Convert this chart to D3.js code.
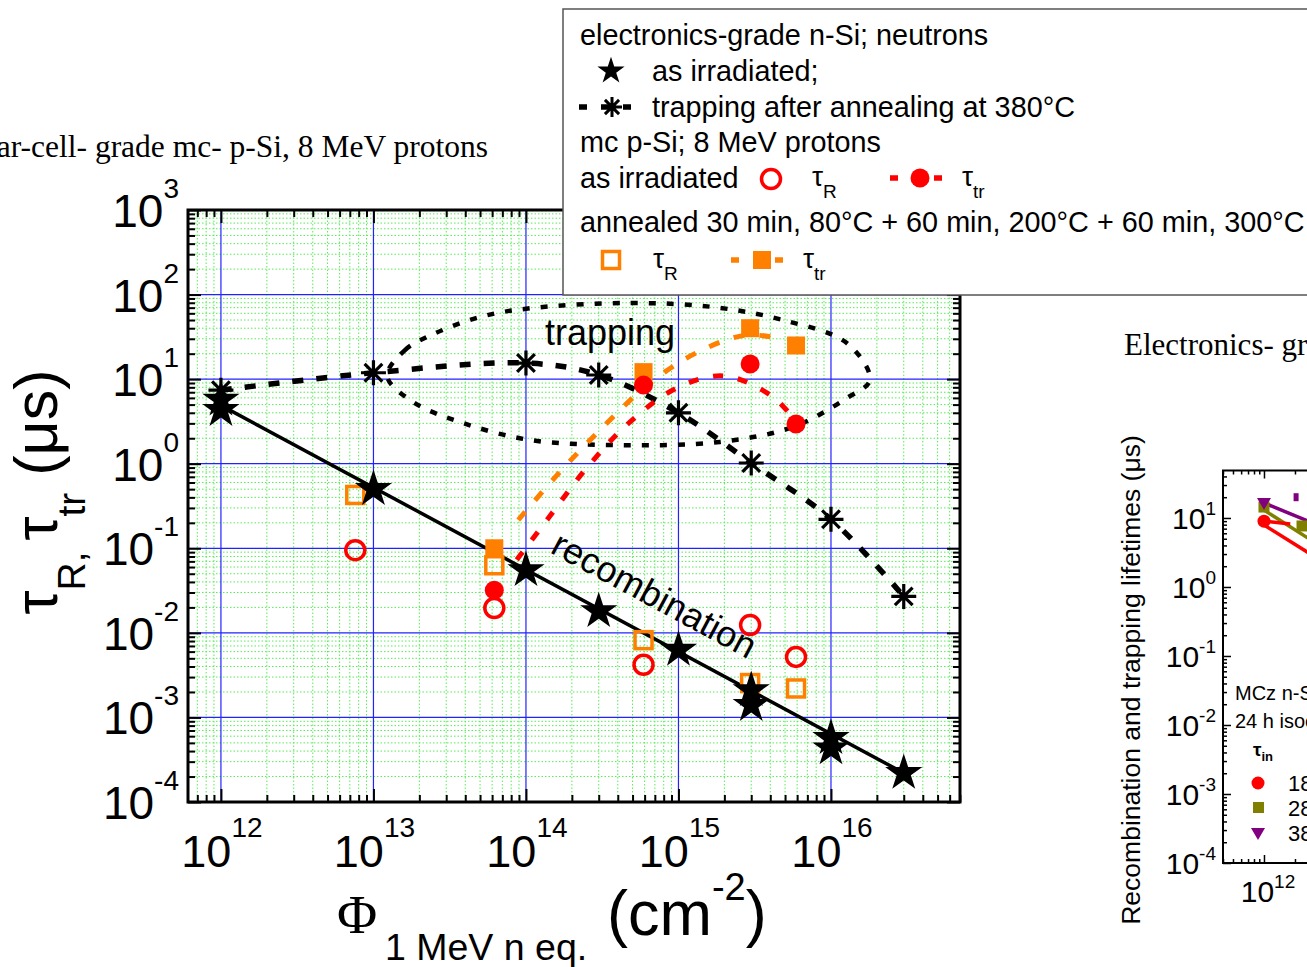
<!DOCTYPE html>
<html><head><meta charset="utf-8">
<script src="https://cdn.jsdelivr.net/npm/d3@7"></script>
<style>
body{margin:0;background:#fff;}
svg{display:block;font-family:"Liberation Sans",Arial,sans-serif;}
</style>
</head><body>
<svg id="c" width="1307" height="967"></svg>
<script>
// ---------------- DATA ----------------
// electronics-grade n-Si, neutrons, as irradiated (recombination)
const starX = [1e12, 1e12, 1e13, 1e14, 3e14, 1e15, 3e15, 3e15, 1e16, 1e16, 3e16];
const starY = [5.7, 4.3, 0.50, 0.055, 0.018, 0.0063, 0.0021, 0.0014, 5.7e-4, 4.3e-4, 2.2e-4];
const recombFitX = [1e12, 3e16];
const recombFitY = [4.9, 2.2e-4];
// trapping after annealing at 380C
const trapX = [1e12, 1e13, 1e14, 3e14, 1e15, 3e15, 1e16, 3e16];
const trapY = [7.4, 11.9, 15.5, 11.2, 4.0, 1.02, 0.22, 0.027];
// mc p-Si, 8 MeV protons
const protX = [7.6e12, 6.2e13, 5.9e14, 2.95e15, 5.9e15];
const irrTauR = [0.095, 0.0197, 0.0042, 0.0124, 0.0052];
const annTauR = [0.427, 0.063, 0.0082, 0.00255, 0.0022];
const trX = [6.2e13, 5.9e14, 2.95e15, 5.9e15];
const irrTauTr = [0.032, 8.5, 15.1, 2.95];
const annTauTr = [0.10, 12.1, 40, 25];
// hand-drawn guide curves
const irrGuideX = [8.7e13, 1.42e14, 2.5e14, 4.8e14, 9.8e14, 2.0e15, 4.17e15, 6.0e15];
const irrGuideY = [0.073, 0.234, 0.89, 3.1, 7.9, 10.9, 6.15, 3.0];
const annGuideX = [8.9e13, 1.67e14, 3.3e14, 6.5e14, 1.34e15, 2.73e15, 4.5e15];
const annGuideY = [0.216, 0.80, 2.87, 9.0, 20.9, 33, 30.6];
// "trapping" loop
const loopX = [1.23e13, 1.61e13, 2.24e13, 4.99e13, 1.11e14, 4.81e14, 1.68e15, 4.84e15, 1.27e16, 1.80e16, 1.27e16, 5.63e15, 1.87e15, 4.13e14, 1.06e14, 3.86e13, 1.82e13];
const loopY = [10.9, 22.1, 31.5, 54.3, 69.4, 79.5, 71.3, 50.0, 26.7, 9.8, 5.98, 2.72, 1.81, 1.66, 1.91, 3.03, 5.37];
// tick labels
const xTickExps = [12, 13, 14, 15, 16];
const yTickExps = [3, 2, 1, 0, -1, -2, -3, -4];
// inset (right, cut off)
const insetYExps = [1, 0, -1, -2, -3, -4];
const insetXExps = [12];
const insetRedX = [1e12], insetRedY = [9.0];
const insetOliveX = [1e12, 2.34e12], insetOliveY = [14.4, 7.66];
const insetPurpleX = [1e12], insetPurpleY = [16.5];
const insetPurpleBarX = [2.05e12], insetPurpleBarY = [20];
const insetLinePurpleX = [1e12, 1e13], insetLinePurpleY = [16.5, 4.05];
const insetLineOliveX = [1e12, 1e13], insetLineOliveY = [13, 1.46];
const insetLineRed1X = [1e12, 1e13], insetLineRed1Y = [7.9, 0.93];
const insetLineRed2X = [1e12, 1.8e12], insetLineRed2Y = [9.0, 8.2];

// ---------------- DRAW ----------------
const svg = d3.select('#c');
const RED = '#ff0000', ORANGE = '#ff8000', OLIVE = '#808000', PURPLE = '#800080';
const zip = (a, b) => a.map((v, i) => [v, b[i]]);

const x = d3.scaleLog().domain([Math.pow(10, 11.784), Math.pow(10, 16.846)]).range([188, 960]);
const y = d3.scaleLog().domain([1e-4, 1e3]).range([802, 210]);
const X0 = 188, X1 = 960, Y0 = 802, Y1 = 210;

function minors(scale) {
  const [a, b] = scale.domain();
  const out = [];
  for (let e = Math.floor(Math.log10(a)); e <= Math.ceil(Math.log10(b)); e++)
    for (let k = 2; k <= 9; k++) { const v = k * Math.pow(10, e); if (v > a * 1.0001 && v < b * 0.9999) out.push(v); }
  return out;
}
const xMaj = xTickExps.map(e => Math.pow(10, e));
const yMaj = yTickExps.map(e => Math.pow(10, e));

// minor grid (green dotted)
const grid = svg.append('g');
grid.selectAll('.gxm').data(minors(x)).enter().append('line')
  .attr('x1', d => x(d)).attr('x2', d => x(d)).attr('y1', Y1).attr('y2', Y0)
  .attr('stroke', '#55ee55').attr('stroke-width', 1).attr('stroke-dasharray', '1.5,2');
grid.selectAll('.gym').data(minors(y)).enter().append('line')
  .attr('y1', d => y(d)).attr('y2', d => y(d)).attr('x1', X0).attr('x2', X1)
  .attr('stroke', '#55ee55').attr('stroke-width', 1).attr('stroke-dasharray', '1.5,2');
// major grid (blue)
grid.selectAll('.gx').data(xMaj).enter().append('line')
  .attr('x1', d => x(d)).attr('x2', d => x(d)).attr('y1', Y1).attr('y2', Y0)
  .attr('stroke', '#2222ff').attr('stroke-width', 1.2);
grid.selectAll('.gy').data(yMaj).enter().append('line')
  .attr('y1', d => y(d)).attr('y2', d => y(d)).attr('x1', X0).attr('x2', X1)
  .attr('stroke', '#2222ff').attr('stroke-width', 1.2);

// axes ticks (inward, all sides)
function ticks(axisFn, scale, vals, size, tr) {
  const g = svg.append('g').attr('transform', tr)
    .call(axisFn(scale).tickValues(vals).tickSize(-size).tickFormat(''));
  g.select('.domain').remove();
  g.selectAll('line').attr('stroke', '#000').attr('stroke-width', 2);
}
ticks(d3.axisBottom, x, xMaj, 13, `translate(0,${Y0})`);
ticks(d3.axisBottom, x, minors(x), 7, `translate(0,${Y0})`);
ticks(d3.axisTop, x, xMaj, 13, `translate(0,${Y1})`);
ticks(d3.axisTop, x, minors(x), 7, `translate(0,${Y1})`);
ticks(d3.axisLeft, y, yMaj, 13, `translate(${X0},0)`);
ticks(d3.axisLeft, y, minors(y), 7, `translate(${X0},0)`);
ticks(d3.axisRight, y, yMaj, 13, `translate(${X1},0)`);
ticks(d3.axisRight, y, minors(y), 7, `translate(${X1},0)`);
svg.append('rect').attr('x', X0).attr('y', Y1).attr('width', X1 - X0).attr('height', Y0 - Y1)
  .attr('fill', 'none').attr('stroke', '#000').attr('stroke-width', 3);

// tick labels
function pow10(g, px, py, exp, anchor, size, supSize, supDy) {
  const t = g.append('text').attr('x', px).attr('y', py).attr('text-anchor', anchor)
    .attr('font-size', size).attr('fill', '#000');
  t.append('tspan').text('10');
  t.append('tspan').attr('font-size', supSize).attr('dy', -supDy).text(exp);
}
xTickExps.forEach(e => pow10(svg, x(Math.pow(10, e)) + 1, 867, e, 'middle', 45, 28, 30));
yTickExps.forEach(e => pow10(svg, 179, y(Math.pow(10, e)) + 17, e, 'end', 46, 28, 29));

// ---------- series ----------
const lineLog = d3.line().x(d => x(d[0])).y(d => y(d[1]));
const plot = svg.append('g');

// trapping loop (dotted)
plot.append('path').datum(zip(loopX, loopY))
  .attr('d', lineLog.curve(d3.curveCatmullRomClosed.alpha(0.5)))
  .attr('fill', 'none').attr('stroke', '#000').attr('stroke-width', 4.5).attr('stroke-dasharray', '7,11');

// recombination fit line
plot.append('path').datum(zip(recombFitX, recombFitY))
  .attr('d', d3.line().x(d => x(d[0])).y(d => y(d[1])))
  .attr('fill', 'none').attr('stroke', '#000').attr('stroke-width', 3.5);

// trapping dashed line
plot.append('path').datum(zip(trapX, trapY))
  .attr('d', d3.line().x(d => x(d[0])).y(d => y(d[1])).curve(d3.curveCatmullRom.alpha(0.5)))
  .attr('fill', 'none').attr('stroke', '#000').attr('stroke-width', 5.5).attr('stroke-dasharray', '11,13');

// guides
plot.append('path').datum(zip(annGuideX, annGuideY))
  .attr('d', d3.line().x(d => x(d[0])).y(d => y(d[1])).curve(d3.curveCatmullRom.alpha(0.5)))
  .attr('fill', 'none').attr('stroke', ORANGE).attr('stroke-width', 5).attr('stroke-dasharray', '11,15');
plot.append('path').datum(zip(irrGuideX, irrGuideY))
  .attr('d', d3.line().x(d => x(d[0])).y(d => y(d[1])).curve(d3.curveCatmullRom.alpha(0.5)))
  .attr('fill', 'none').attr('stroke', RED).attr('stroke-width', 5).attr('stroke-dasharray', '10,15');

// markers
function asteriskPath(r) {
  let p = '';
  [0, 45, 90, 135].forEach(a => {
    const t = a * Math.PI / 180, dx = r * Math.cos(t), dy = r * Math.sin(t);
    p += `M${(-dx).toFixed(2)},${(-dy).toFixed(2)}L${dx.toFixed(2)},${dy.toFixed(2)}`;
  });
  return p;
}
plot.selectAll('.ast').data(zip(trapX, trapY)).enter().append('path')
  .attr('transform', d => `translate(${x(d[0])},${y(d[1])})`)
  .attr('d', asteriskPath(12.5)).attr('stroke', '#000').attr('stroke-width', 3.2).attr('fill', 'none');

// orange open squares (annealed tau_R)
plot.selectAll('.osq').data(zip(protX, annTauR)).enter().append('rect')
  .attr('x', d => x(d[0]) - 8.5).attr('y', d => y(d[1]) - 8.5).attr('width', 17).attr('height', 17)
  .attr('fill', 'none').attr('stroke', ORANGE).attr('stroke-width', 3.5);
// orange filled squares (annealed tau_tr)
plot.selectAll('.fsq').data(zip(trX, annTauTr)).enter().append('rect')
  .attr('x', d => x(d[0]) - 9).attr('y', d => y(d[1]) - 9).attr('width', 18).attr('height', 18)
  .attr('fill', ORANGE);
// red open circles
plot.selectAll('.oc').data(zip(protX, irrTauR)).enter().append('circle')
  .attr('cx', d => x(d[0])).attr('cy', d => y(d[1])).attr('r', 9.5)
  .attr('fill', 'none').attr('stroke', RED).attr('stroke-width', 3.5);
// red filled circles
plot.selectAll('.fc').data(zip(trX, irrTauTr)).enter().append('circle')
  .attr('cx', d => x(d[0])).attr('cy', d => y(d[1])).attr('r', 9.5).attr('fill', RED);
// stars
plot.selectAll('.st').data(zip(starX, starY)).enter().append('path')
  .attr('transform', d => `translate(${x(d[0])},${y(d[1])})`)
  .attr('d', d3.symbol(d3.symbolStar).size(430)()).attr('fill', '#000');

// in-plot labels
svg.append('text').attr('x', 545).attr('y', 345).attr('font-size', 36).text('trapping');
const slope = Math.atan2(y(recombFitY[1]) - y(recombFitY[0]), x(recombFitX[1]) - x(recombFitX[0])) * 180 / Math.PI;
svg.append('text').attr('transform', `translate(549,552) rotate(${slope})`).attr('font-size', 36).text('recombination');

// axis titles
const yt = svg.append('text').attr('transform', 'translate(57,492) rotate(-90)').attr('text-anchor', 'middle').attr('font-size', 61);
yt.append('tspan').text('τ');
yt.append('tspan').attr('font-size', 39).attr('dy', 28).text('R');
yt.append('tspan').attr('font-size', 39).text(', ');
yt.append('tspan').attr('dy', -28).text('τ');
yt.append('tspan').attr('font-size', 39).attr('dy', 28).text('tr');
yt.append('tspan').attr('dy', -28).text(' (μs)');

svg.append('text').attr('x', 337).attr('y', 933).attr('font-family', '"Liberation Serif","Times New Roman",serif').attr('font-size', 55).text('Φ');
svg.append('text').attr('x', 385).attr('y', 960).attr('font-size', 37.5).text('1 MeV n eq.');
const xt = svg.append('text').attr('x', 607).attr('y', 935).attr('font-size', 63);
xt.append('tspan').text('(cm');
xt.append('tspan').attr('font-size', 38).attr('dy', -35).text('-2');
xt.append('tspan').attr('dy', 35).text(')');

// titles
svg.append('text').attr('x', 488).attr('y', 157).attr('text-anchor', 'end')
  .attr('font-family', '"Liberation Serif","Times New Roman",serif').attr('font-size', 31.5)
  .text('Solar-cell- grade mc- p-Si, 8 MeV protons');
svg.append('text').attr('x', 1124).attr('y', 355)
  .attr('font-family', '"Liberation Serif","Times New Roman",serif').attr('font-size', 31)
  .text('Electronics- grade n-Si, neutrons');

// ---------------- INSET (cut off at right) ----------------
const xi = d3.scaleLog().domain([Math.pow(10, 11.602), Math.pow(10, 14.36)]).range([1223, 1507]);
const yi = d3.scaleLog().domain([1e-4, Math.pow(10, 1.688)]).range([863, 470.5]);
const IX0 = 1223, IY0 = 863, IY1 = 470.5;
const ins = svg.append('g');
function iticks(axisFn, scale, vals, size, tr) {
  const g = ins.append('g').attr('transform', tr)
    .call(axisFn(scale).tickValues(vals).tickSize(-size).tickFormat(''));
  g.select('.domain').remove();
  g.selectAll('line').attr('stroke', '#000').attr('stroke-width', 1.5);
}
const iyMaj = insetYExps.map(e => Math.pow(10, e));
const ixMaj = [1e12, 1e13];
iticks(d3.axisLeft, yi, iyMaj, 8, `translate(${IX0},0)`);
iticks(d3.axisLeft, yi, minors(yi), 4, `translate(${IX0},0)`);
iticks(d3.axisBottom, xi, ixMaj, 8, `translate(0,${IY0})`);
iticks(d3.axisBottom, xi, minors(xi), 4, `translate(0,${IY0})`);
iticks(d3.axisTop, xi, ixMaj, 8, `translate(0,${IY1})`);
iticks(d3.axisTop, xi, minors(xi), 4, `translate(0,${IY1})`);
ins.append('path').attr('d', `M1320,${IY1}H${IX0}V${IY0}H1320`).attr('fill', 'none').attr('stroke', '#000').attr('stroke-width', 2);
insetYExps.forEach(e => pow10(ins, 1216, yi(Math.pow(10, e)) + 11, e, 'end', 30, 19, 14));
insetXExps.forEach(e => pow10(ins, xi(Math.pow(10, e)) + 4, 902, e, 'middle', 30, 19, 14));
ins.append('text').attr('transform', 'translate(1140,680) rotate(-90)').attr('text-anchor', 'middle')
  .attr('font-size', 26.5).text('Recombination and trapping lifetimes (μs)');

const il = d3.line().x(d => xi(d[0])).y(d => yi(d[1]));
[[insetLinePurpleX, insetLinePurpleY, PURPLE], [insetLineOliveX, insetLineOliveY, OLIVE],
 [insetLineRed1X, insetLineRed1Y, RED], [insetLineRed2X, insetLineRed2Y, RED]].forEach(([a, b, c]) =>
  ins.append('path').datum(zip(a, b)).attr('d', il).attr('fill', 'none').attr('stroke', c).attr('stroke-width', 3.5));
ins.selectAll('.ir').data(zip(insetRedX, insetRedY)).enter().append('circle')
  .attr('cx', d => xi(d[0])).attr('cy', d => yi(d[1])).attr('r', 6.5).attr('fill', RED);
ins.selectAll('.io').data(zip(insetOliveX, insetOliveY)).enter().append('rect')
  .attr('x', d => xi(d[0]) - 5.5).attr('y', d => yi(d[1]) - 5.5).attr('width', 11).attr('height', 11).attr('fill', OLIVE);
const triDown = 'M-7,-5L7,-5L0,7Z';
ins.selectAll('.ip').data(zip(insetPurpleX, insetPurpleY)).enter().append('path')
  .attr('transform', d => `translate(${xi(d[0])},${yi(d[1])})`).attr('d', triDown).attr('fill', PURPLE);
ins.selectAll('.ipb').data(zip(insetPurpleBarX, insetPurpleBarY)).enter().append('rect')
  .attr('x', d => xi(d[0]) - 2.5).attr('y', d => yi(d[1]) - 4).attr('width', 5).attr('height', 8).attr('fill', PURPLE);

ins.append('text').attr('x', 1235).attr('y', 700).attr('font-size', 20).text('MCz n-Si, neutrons');
ins.append('text').attr('x', 1235).attr('y', 728).attr('font-size', 20).text('24 h isochronal annealing');
const tin = ins.append('text').attr('x', 1253).attr('y', 756).attr('font-size', 19).attr('font-weight', 'bold');
tin.append('tspan').text('τ');
tin.append('tspan').attr('font-size', 13).attr('dy', 5).text('in');
ins.append('circle').attr('cx', 1258).attr('cy', 783).attr('r', 6.5).attr('fill', RED);
ins.append('rect').attr('x', 1253).attr('y', 802).attr('width', 11).attr('height', 11).attr('fill', OLIVE);
ins.append('path').attr('transform', 'translate(1258,833)').attr('d', triDown).attr('fill', PURPLE);
ins.append('text').attr('x', 1288).attr('y', 791).attr('font-size', 22).text('180 °C');
ins.append('text').attr('x', 1288).attr('y', 816).attr('font-size', 22).text('280 °C');
ins.append('text').attr('x', 1288).attr('y', 841).attr('font-size', 22).text('380 °C');

// ---------------- LEGEND ----------------
const lg = svg.append('g');
lg.append('rect').attr('x', 563).attr('y', 9).attr('width', 780).attr('height', 286)
  .attr('fill', '#fff').attr('stroke', '#555').attr('stroke-width', 1.5);
const LFS = 28.8;
const LT = (px, py, s) => lg.append('text').attr('x', px).attr('y', py).attr('font-size', LFS).text(s);
LT(580, 45, 'electronics-grade n-Si; neutrons');
lg.append('path').attr('transform', 'translate(611,71)').attr('d', d3.symbol(d3.symbolStar).size(230)()).attr('fill', '#000');
LT(652, 81, 'as irradiated;');
lg.append('line').attr('x1', 579).attr('x2', 632).attr('y1', 107).attr('y2', 107)
  .attr('stroke', '#000').attr('stroke-width', 5.5).attr('stroke-dasharray', '8,14');
lg.append('path').attr('transform', 'translate(612,107)').attr('d', asteriskPath(10)).attr('stroke', '#000').attr('stroke-width', 3);
LT(652, 117, 'trapping after annealing at 380°C');
LT(580, 152, 'mc p-Si; 8 MeV protons');
LT(580, 188, 'as irradiated');
lg.append('circle').attr('cx', 771).attr('cy', 179).attr('r', 9.5).attr('fill', 'none').attr('stroke', RED).attr('stroke-width', 3.5);
function tauLabel(px, py, sub) {
  const t = lg.append('text').attr('x', px).attr('y', py).attr('font-size', 28);
  t.append('tspan').text('τ');
  t.append('tspan').attr('font-size', 19).attr('dy', 12).text(sub);
}
tauLabel(812, 186, 'R');
lg.append('line').attr('x1', 890).attr('x2', 942).attr('y1', 178).attr('y2', 178)
  .attr('stroke', RED).attr('stroke-width', 5.5).attr('stroke-dasharray', '8,14');
lg.append('circle').attr('cx', 920).attr('cy', 178).attr('r', 9.5).attr('fill', RED);
tauLabel(962, 186, 'tr');
LT(580, 232, 'annealed 30 min, 80°C + 60 min, 200°C + 60 min, 300°C');
lg.append('rect').attr('x', 602.5).attr('y', 251.5).attr('width', 17).attr('height', 17).attr('fill', 'none').attr('stroke', ORANGE).attr('stroke-width', 3.5);
tauLabel(653, 268, 'R');
lg.append('line').attr('x1', 731).attr('x2', 783).attr('y1', 260).attr('y2', 260)
  .attr('stroke', ORANGE).attr('stroke-width', 5.5).attr('stroke-dasharray', '8,14');
lg.append('rect').attr('x', 753).attr('y', 251).attr('width', 18).attr('height', 18).attr('fill', ORANGE);
tauLabel(803, 268, 'tr');
</script>
</body></html>
